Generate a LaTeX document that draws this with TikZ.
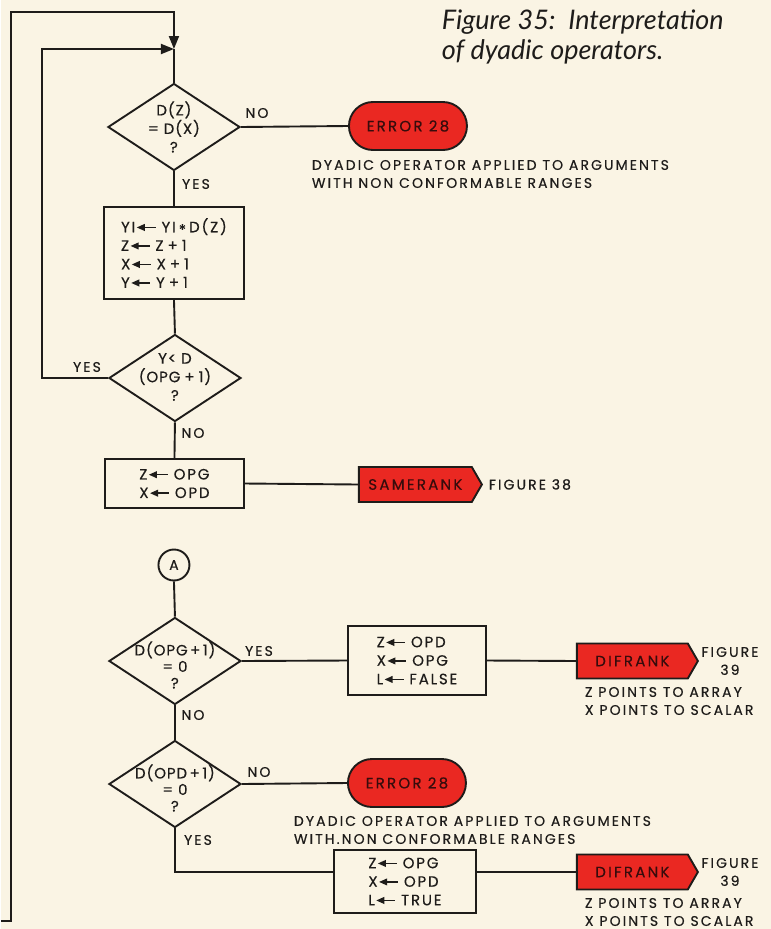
\documentclass[tikz,border=0pt]{standalone}
\usepackage{fontspec}
\setmainfont{Poppins}
\newfontfamily\labfam[LetterSpace=15,FakeBold=0.4]{Poppins}
\newfontfamily\boxfam[LetterSpace=12,FakeBold=0.4]{Poppins}
\newfontfamily\diafam[LetterSpace=6,FakeBold=0.4]{Poppins}
\newfontfamily\titfam{Lato}
\usetikzlibrary{shapes.geometric,shapes.misc,shapes.symbols,arrows.meta}
\definecolor{paper}{RGB}{250,244,228}
\definecolor{flowred}{RGB}{234,40,34}
\definecolor{ink}{RGB}{30,28,26}
\definecolor{redink}{RGB}{55,12,12}
\newcommand{\labf}{\labfam\fontsize{14}{18}\selectfont}
\newcommand{\boxf}{\boxfam\fontsize{15}{18.5}\selectfont}
\newcommand{\diaf}{\diafam\fontsize{15}{16.5}\selectfont}
\newcommand{\redf}{\labfam\fontsize{15}{18}\selectfont}
\newcommand{\asn}{\hspace{1.5pt}\tikz[baseline=-4.8pt]{\fill (0pt,0pt) -- (8pt,3.6pt) -- (8pt,-3.6pt) -- cycle; \draw[line width=1.5pt] (6pt,0pt) -- (19pt,0pt);}\hspace{5pt}}
\newcommand{\pls}{\hspace{4pt}+\hspace{4pt}}
\newcommand{\tms}{\hspace{3pt}\raisebox{-3pt}{*}\hspace{3pt}}
\begin{document}
\begin{tikzpicture}[x=1pt,y=-1pt,line width=1.9pt,color=ink,
  dia/.style={diamond,draw,minimum width=132pt,minimum height=87pt,inner sep=0pt},
  dtext/.style={align=center,font=\diaf,inner sep=0pt},
  box/.style={rectangle,draw,align=left,font=\boxf,inner sep=0pt},
  errshape/.style={rounded rectangle,draw,fill=flowred,minimum width=118pt,minimum height=48pt,inner sep=0pt,font=\redf,text=redink},
  sig/.style={signal,signal to=east,signal pointer angle=120,draw,fill=flowred,minimum height=35pt,inner sep=0pt,font=\redf,text=redink,anchor=west},
  lab/.style={font=\labf,inner sep=0pt},
  note/.style={font=\labf,inner sep=0pt,align=left,anchor=west},
  ttl/.style={anchor=base west,inner sep=0pt,font=\titfam\itshape\fontsize{27}{30}\selectfont},
  tip/.style={-{Triangle[length=13pt,width=10pt]}}]
\fill[paper] (0,0) rectangle (770,929);

% title
\node[ttl] (title1) at (440,29) {Figure 35:\ \ Interpretation};
\node[ttl] (title2) at (440,59) {of dyadic operators.};

% first section
\coordinate (j) at (173,49);
\node[dia] (d1) at (173,127) {};
\node[dtext,font=\diafam\fontsize{15}{18.5}\selectfont] (d1t) at (173,127) {D(Z)\\= D(X)\\?};
\node[errshape] (e1) at (407,126) {ERROR 28};
\node[note] (n1) at (310,174) {DYADIC OPERATOR APPLIED TO ARGUMENTS\\WITH NON CONFORMABLE RANGES};
\node[box,minimum width=140pt,minimum height=92pt] (b1) at (173,253) {YI\asn YI\tms D(Z)\\Z\asn Z\pls 1\\X\asn X\pls 1\\Y\asn Y\pls 1};
\node[dia] (d2) at (174,378) {};
\node[dtext,font=\diafam\fontsize{15}{18.5}\selectfont] (d2t) at (174,377) {Y< D\\(OPG\pls 1)\\?};
\node[box,minimum width=139pt,minimum height=49pt] (b2) at (173.5,483.5) {Z\asn OPG\\X\asn OPD};
\node[sig,minimum width=123pt] (s1) at (357,484.5) {SAMERANK};
\node[lab,anchor=west] (f38) at (487,484.5) {FIGURE 38};

% labels
\node[lab] (l1) at (256,113) {NO};
\node[lab] (l2) at (195,184) {YES};
\node[lab] (l3) at (86,367) {YES};
\node[lab] (l4) at (192,433) {NO};

% connectors
\coordinate (offL) at (0,921);
\coordinate (ob) at (10,921);
\coordinate (ot) at (173,12);
\coordinate (il) at (41,378);
\draw[tip] (offL) -- (ob) |- (ot) -- (j);
\draw[tip] (d2.west) -- (il) |- (j);
\draw (j) -- (d1.north);
\draw (d1.east) -- (e1.west);
\draw (d1.south) -- (b1.north);
\draw (b1.south) -- (d2.north);
\draw (d2.south) -- (b2.north);
\draw (b2.east) -- (s1.west);

% second section
\node[circle,draw,minimum size=31pt,inner sep=0pt,font=\labf] (A) at (173,565) {A};
\node[dia] (d3) at (174,661) {};
\node[dtext] (d3t) at (174,665) {D(OPG\,+\,1)\\= 0\\?};
\node[box,minimum width=138pt,minimum height=69pt] (b3) at (416,660.5) {Z\asn OPD\\X\asn OPG\\L\asn FALSE};
\node[sig,minimum width=121pt] (s2) at (575,661) {DIFRANK};
\node[lab,align=center] (f39a) at (729,661) {FIGURE\\39};
\node[note] (n2) at (583,701) {Z POINTS TO ARRAY\\X POINTS TO SCALAR};
\node[lab] (l5) at (258,651) {YES};
\node[lab] (l6) at (192,715) {NO};

\node[dia] (d4) at (174,784) {};
\node[dtext] (d4t) at (174,788) {D(OPD\,+\,1)\\= 0\\?};
\node[errshape] (e2) at (406,783) {ERROR 28};
\node[note] (n3) at (292,830) {DYADIC OPERATOR APPLIED TO ARGUMENTS\\WITH.NON CONFORMABLE RANGES};
\node[lab] (l7) at (258,772) {NO};
\node[lab] (l8) at (197,840) {YES};
\node[box,minimum width=142pt,minimum height=63pt] (b4) at (404,881.5) {Z\asn OPG\\X\asn OPD\\L\asn TRUE};
\node[sig,minimum width=121pt] (s3) at (575,872) {DIFRANK};
\node[lab,align=center] (f39b) at (729,872) {FIGURE\\39};
\node[note] (n4) at (583,912) {Z POINTS TO ARRAY\\X POINTS TO SCALAR};

\coordinate (c4) at (333,872);
\draw (A.south) -- (d3.north);
\draw (d3.east) -- (b3.west);
\draw (b3.east) -- (s2.west);
\draw (d3.south) -- (d4.north);
\draw (d4.east) -- (e2.west);
\draw (d4.south) |- (c4);
\draw (c4 -| b4.east) -- (s3.west);
\end{tikzpicture}
\end{document}
